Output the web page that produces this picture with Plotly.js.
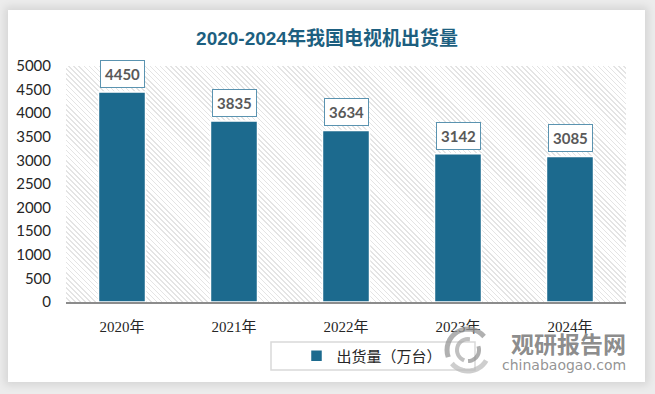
<!DOCTYPE html>
<html>
<head>
<meta charset="utf-8">
<script src="https://cdn.plot.ly/plotly-3.0.1.min.js"></script>
<style>
  html, body { margin:0; padding:0; width:655px; height:394px; background:#ececec; overflow:hidden; }
  #card { position:absolute; left:8px; top:10px; width:637px; height:372px; background:#ffffff;
          box-shadow: 0 0 8px 3px rgba(0,0,0,0.10); }
  #hatch { position:absolute; left:66px; top:66px; width:560px; height:236px;
           background: repeating-linear-gradient(45deg, #ffffff 0px, #ffffff 2.5px, #e4e4e4 2.5px, #e4e4e4 3.6px); }
  #chart { position:absolute; left:0; top:0; width:655px; height:394px; }
</style>
</head>
<body>
<div id="card"></div>
<div id="hatch"></div>
<div id="chart"></div>
<script>
const categories = ["2020年", "2021年", "2022年", "2023年", "2024年"];
const shipments = [4450, 3835, 3634, 3142, 3085];
const seriesName = "出货量（万台）";
const yTicks = [0, 500, 1000, 1500, 2000, 2500, 3000, 3500, 4000, 4500, 5000];

const barColor = "#1c6a8e";

// plot area in pixels: x 66..626, y 66..302
const PX = x => (x - 66) / 560;
const PY = y => (302 - y) / 236;

const trace = {
  type: "bar",
  x: categories,
  y: shipments,
  name: seriesName,
  marker: { color: barColor, line: { color: "#ffffff", width: 1.5 } },
  hoverinfo: "x+y",
  showlegend: true
};

const labelAnnotations = categories.map((c, i) => ({
  x: c, y: shipments[i], xref: "x", yref: "y",
  text: "<b>" + shipments[i] + "</b>",
  showarrow: false, yanchor: "bottom", yshift: 4,
  bgcolor: "#ffffff", bordercolor: "#5a93b0", borderwidth: 1, borderpad: 4,
  font: { family: "Lato, 'Open Sans', sans-serif", size: 15, color: "#595959" }
}));

const watermark = [
  { xref: "paper", yref: "paper", x: PX(568), y: PY(343),
    text: "<b>观研报告网</b>", showarrow: false, xanchor: "center", yanchor: "middle",
    font: { family: "'Noto Sans CJK SC', sans-serif", size: 23, color: "rgba(125,125,125,0.9)" } },
  { xref: "paper", yref: "paper", x: PX(564), y: PY(365),
    text: "chinabaogao.com", showarrow: false, xanchor: "center", yanchor: "middle",
    font: { family: "'DejaVu Sans', sans-serif", size: 14, color: "rgba(135,135,135,0.9)" } }
];

function arcPath(cx, cy, r, a0, a1) {
  let p = "";
  const n = 16;
  for (let k = 0; k <= n; k++) {
    const a = (a0 + (a1 - a0) * k / n) * Math.PI / 180;
    const x = cx + r * Math.cos(a), y = cy - r * Math.sin(a);
    p += (k === 0 ? "M " : " L ") + PX(x).toFixed(4) + "," + PY(y).toFixed(4);
  }
  return p;
}

const logoShapes = [
  { path: arcPath(468, 350, 21, 40, 200), color: "rgba(150,150,150,0.75)", w: 5 },
  { path: arcPath(468, 350, 21, 220, 330), color: "rgba(185,185,185,0.7)", w: 5 },
  { path: arcPath(468, 350, 11, 80, 250), color: "rgba(165,165,165,0.7)", w: 4 },
  { path: arcPath(468, 350, 11, 270, 380), color: "rgba(140,140,140,0.7)", w: 4 }
].map(s => ({ type: "path", xref: "paper", yref: "paper", path: s.path,
               line: { color: s.color, width: s.w } }));

const layout = {
  width: 655, height: 394,
  paper_bgcolor: "rgba(0,0,0,0)",
  plot_bgcolor: "rgba(0,0,0,0)",
  margin: { l: 66, r: 29, t: 66, b: 92 },
  title: {
    text: "<b>2020-2024年我国电视机出货量</b>",
    xref: "container", yref: "container", x: 327 / 655, y: 1 - 38 / 394,
    xanchor: "center", yanchor: "middle",
    font: { family: "'Liberation Sans', 'Noto Sans CJK SC', sans-serif", size: 19, color: "#1d5f80" }
  },
  bargap: 0.58,
  xaxis: {
    type: "category",
    showline: true, linecolor: "#8c8c8c", linewidth: 1.5,
    showgrid: false, ticks: "",
    ticklabelstandoff: 10,
    tickfont: { family: "'Liberation Serif', 'Noto Sans CJK SC', serif", size: 15, color: "#262626" }
  },
  yaxis: {
    range: [0, 5000], tickvals: yTicks, ticktext: yTicks.map(String),
    showgrid: false, zeroline: false, showline: false, ticks: "",
    ticklabelstandoff: 14,
    tickfont: { family: "Lato, 'Open Sans', sans-serif", size: 15, color: "#262626" }
  },
  showlegend: true,
  legend: {
    orientation: "h", x: PX(372), xanchor: "center",
    y: PY(356), yanchor: "middle",
    bgcolor: "rgba(0,0,0,0)", borderwidth: 0,
    font: { family: "'Noto Sans CJK SC', sans-serif", size: 15, color: "#262626" }
  },
  shapes: [
    { type: "rect", xref: "paper", yref: "paper",
      x0: PX(271), x1: PX(475), y0: PY(370), y1: PY(342),
      line: { color: "#d9d9d9", width: 1.5 }, fillcolor: "rgba(0,0,0,0)" }
  ].concat(logoShapes),
  annotations: labelAnnotations.concat(watermark)
};

Plotly.newPlot("chart", [trace], layout, { displayModeBar: false, staticPlot: true });
</script>
</body>
</html>
